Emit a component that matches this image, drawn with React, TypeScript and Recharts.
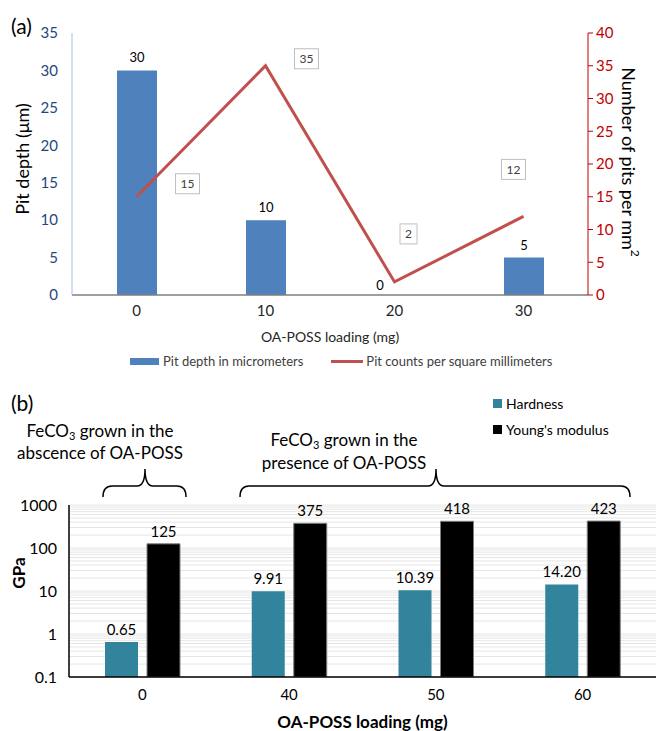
import React from 'react';
import {
  ComposedChart,
  BarChart,
  Bar,
  Line,
  XAxis,
  YAxis,
  CartesianGrid,
  LabelList,
  Legend,
} from 'recharts';

// ---------- Panel (a) data ----------
const LOADING_A = ['0', '10', '20', '30'];
const PIT_DEPTH = [30, 10, 0, 5];
const PIT_COUNT = [15, 35, 2, 12];
const LEFT_TICKS = [0, 5, 10, 15, 20, 25, 30, 35];
const RIGHT_TICKS = [0, 5, 10, 15, 20, 25, 30, 35, 40];

// ---------- Panel (b) data ----------
const LOADING_B = ['0', '40', '50', '60'];
const HARDNESS = [0.65, 9.91, 10.39, 14.2];
const YOUNGS = [125, 375, 418, 423];
const LOG_TICKS = [0.1, 1, 10, 100, 1000];
const LOG_DOMAIN: [number, number] = [0.1, 1000];

// label placement offsets for line data labels (dx, dy from point)
const LINE_LABEL_OFFSETS: [number, number][] = [
  [51, -13],
  [41, -7],
  [14, -48],
  [-10, -47],
];

// minor + major log gridline values
const GRID_VALUES: number[] = [];
[0.1, 1, 10, 100].forEach((d) => {
  for (let m = 1; m <= 9; m++) GRID_VALUES.push(+(d * m).toPrecision(3));
});
GRID_VALUES.push(1000);

const dataA = LOADING_A.map((c, i) => ({ loading: c, depth: PIT_DEPTH[i], count: PIT_COUNT[i] }));
const dataB = LOADING_B.map((c, i) => ({ loading: c, hardness: HARDNESS[i], youngs: YOUNGS[i] }));

const FONT = 'Lato, "Open Sans", sans-serif';

const logGridGenerator = (props: any) => {
  const yAxis = props?.yAxis;
  const scale = yAxis?.scale;
  if (typeof scale === 'function') {
    const pts = GRID_VALUES.map((v) => scale(v)).filter((p: any) => Number.isFinite(p));
    if (pts.length) return pts;
  }
  const off = props?.offset || {};
  const top = off.top ?? 125;
  const h = off.height ?? 172;
  const lo = Math.log10(LOG_DOMAIN[0]);
  const hi = Math.log10(LOG_DOMAIN[1]);
  return GRID_VALUES.map((v) => top + (h * (hi - Math.log10(v))) / (hi - lo));
};

const renderBoxLabel = (props: any) => {
  const { x, y, index, value } = props;
  const off = LINE_LABEL_OFFSETS[index] || [0, -20];
  const cx = x + off[0];
  const cy = y + off[1];
  const w = String(value).length * 7 + 10;
  return (
    <g key={`bl-${index}`}>
      <rect x={cx - w / 2} y={cy - 10} width={w} height={20} fill="#ffffff" stroke="#bfbfbf" strokeWidth={1} />
      <text x={cx} y={cy} textAnchor="middle" dominantBaseline="central" fontSize={12} fill="#404040">
        {value}
      </text>
    </g>
  );
};

const renderBarLabelA = (p: any) => {
  const { x, y, width, value } = p;
  const isZero = Number(value) === 0;
  const cx = Number(x) + Number(width) / 2 + (isZero ? -15 : 0);
  const ty = Number(y) - (isZero ? 5 : 8);
  return (
    <text x={cx} y={ty} textAnchor="middle" fontSize={13} fill="#000">
      {value}
    </text>
  );
};

const LegendA = () => (
  <div style={{ display: 'flex', alignItems: 'center', fontSize: 13, color: '#404040', whiteSpace: 'nowrap' }}>
    <span style={{ display: 'inline-block', width: 29, height: 7, background: '#4F81BD', marginRight: 4 }} />
    <span style={{ marginRight: 28 }}>Pit depth in micrometers</span>
    <span style={{ display: 'inline-block', width: 32, height: 3, background: '#C0504D', marginRight: 3 }} />
    <span>Pit counts per square millimeters</span>
  </div>
);

const LegendB = () => (
  <div style={{ fontSize: 14, color: '#000', whiteSpace: 'nowrap' }}>
    <div style={{ display: 'flex', alignItems: 'center', height: 18, marginBottom: 8 }}>
      <span style={{ display: 'inline-block', width: 9, height: 9, background: '#31849B', marginRight: 4 }} />
      <span>Hardness</span>
    </div>
    <div style={{ display: 'flex', alignItems: 'center', height: 18 }}>
      <span style={{ display: 'inline-block', width: 9, height: 9, background: '#000', marginRight: 4 }} />
      <span>Young's modulus</span>
    </div>
  </div>
);

export default function App() {
  return (
    <div
      style={{
        position: 'absolute',
        left: 0,
        top: 0,
        width: 656,
        height: 731,
        overflow: 'hidden',
        background: '#ffffff',
        fontFamily: FONT,
      }}
    >
      {/* Panel (a) */}
      <div style={{ position: 'absolute', left: 0, top: 0 }}>
        <ComposedChart
          width={656}
          height={380}
          data={dataA}
          margin={{ top: 33, right: 8, bottom: 35, left: 12 }}
        >
          <XAxis
            dataKey="loading"
            tickLine={false}
            axisLine={{ stroke: '#7f7f7f', strokeWidth: 1.5 }}
            tick={{ fill: '#262626', fontSize: 15 }}
            tickMargin={4}
            height={50}
            label={{
              value: 'OA-POSS loading (mg)',
              position: 'insideBottom',
              offset: 3,
              fill: '#262626',
              fontSize: 14,
            }}
          />
          <YAxis
            yAxisId="left"
            domain={[0, 35]}
            ticks={LEFT_TICKS}
            width={60}
            tickLine={false}
            axisLine={{ stroke: '#9dc3e6' }}
            tick={{ fill: '#1F497D', fontSize: 15 }}
            tickMargin={8}
            label={{
              content: (p: any) => {
                const vb = p.viewBox || {};
                const x = (vb.x ?? 12) + 10;
                const y = (vb.y ?? 33) + (vb.height ?? 262) / 2 - 5;
                return (
                  <text
                    x={x}
                    y={y}
                    transform={`rotate(-90, ${x}, ${y})`}
                    textAnchor="middle"
                    dominantBaseline="central"
                    fontSize={18}
                    fill="#000"
                  >
                    Pit depth (μm)
                  </text>
                );
              },
            }}
          />
          <YAxis
            yAxisId="right"
            orientation="right"
            domain={[0, 40]}
            ticks={RIGHT_TICKS}
            width={60}
            tickSize={5}
            axisLine={{ stroke: '#c00000' }}
            tickLine={{ stroke: '#c00000' }}
            tick={{ fill: '#c00000', fontSize: 15 }}
            tickMargin={3}
            label={{
              content: (p: any) => {
                const vb = p.viewBox || {};
                const x = (vb.x ?? 588) + 41;
                const y = (vb.y ?? 33) + (vb.height ?? 262) / 2 - 2;
                return (
                  <text
                    x={x}
                    y={y}
                    transform={`rotate(90, ${x}, ${y})`}
                    textAnchor="middle"
                    dominantBaseline="central"
                    fontSize={18}
                    fill="#000"
                  >
                    Number of pits per mm
                    <tspan fontSize={12} dy={-7}>
                      2
                    </tspan>
                  </text>
                );
              },
            }}
          />
          <Bar
            yAxisId="left"
            dataKey="depth"
            name="Pit depth in micrometers"
            fill="#4F81BD"
            barSize={40}
            minPointSize={0.01}
            isAnimationActive={false}
          >
            <LabelList dataKey="depth" content={renderBarLabelA} />
          </Bar>
          <Line
            yAxisId="right"
            type="linear"
            dataKey="count"
            name="Pit counts per square millimeters"
            stroke="#C0504D"
            strokeWidth={3}
            dot={false}
            activeDot={false}
            isAnimationActive={false}
            label={renderBoxLabel}
          />
          <Legend
            layout="horizontal"
            verticalAlign="middle"
            align="center"
            wrapperStyle={{ top: 353, left: 130, width: 'auto' }}
            content={() => <LegendA />}
          />
        </ComposedChart>
      </div>

      {/* Panel (b) */}
      <div style={{ position: 'absolute', left: 0, top: 380 }}>
        <BarChart
          width={656}
          height={351}
          data={dataB}
          margin={{ top: 125, right: 0, bottom: 0, left: 9 }}
          barGap={9}
          barCategoryGap="25%"
        >
          <CartesianGrid
            vertical={false}
            horizontalCoordinatesGenerator={logGridGenerator}
            stroke="#e6e6e6"
            strokeWidth={1}
          />
          <XAxis
            dataKey="loading"
            tickLine={false}
            axisLine={{ stroke: '#000', strokeWidth: 1.5 }}
            tick={{ fill: '#000', fontSize: 15 }}
            tickMargin={6}
            height={54}
            label={{
              value: 'OA-POSS loading (mg)',
              position: 'insideBottom',
              offset: 3,
              fill: '#000',
              fontSize: 17,
              fontWeight: 'bold',
            }}
          />
          <YAxis
            scale="log"
            domain={LOG_DOMAIN}
            ticks={LOG_TICKS}
            allowDataOverflow
            width={60}
            tickLine={false}
            axisLine={{ stroke: '#000', strokeWidth: 1.5 }}
            tick={{ fill: '#000', fontSize: 16 }}
            tickMargin={6}
            label={{
              content: (p: any) => {
                const vb = p.viewBox || {};
                const x = (vb.x ?? 9) + 9;
                const y = (vb.y ?? 125) + (vb.height ?? 172) / 2 - 18;
                return (
                  <text
                    x={x}
                    y={y}
                    transform={`rotate(-90, ${x}, ${y})`}
                    textAnchor="middle"
                    dominantBaseline="central"
                    fontSize={17}
                    fontWeight="bold"
                    fill="#000"
                  >
                    GPa
                  </text>
                );
              },
            }}
          />
          <Bar dataKey="hardness" name="Hardness" fill="#31849B" barSize={33} isAnimationActive={false}>
            <LabelList
              dataKey="hardness"
              position="top"
              offset={7}
              fill="#000"
              fontSize={15}
              formatter={(v: any) => Number(v).toFixed(2)}
            />
          </Bar>
          <Bar
            dataKey="youngs"
            name="Young's modulus"
            fill="#000000"
            stroke="#7f7f7f"
            strokeWidth={1}
            barSize={33}
            isAnimationActive={false}
          >
            <LabelList dataKey="youngs" position="top" offset={7} fill="#000" fontSize={15} />
          </Bar>
          <Legend
            layout="horizontal"
            verticalAlign="middle"
            align="center"
            wrapperStyle={{ top: 14, left: 493, width: 'auto' }}
            content={() => <LegendB />}
          />
        </BarChart>
      </div>

      {/* Panel labels and annotation braces */}
      <svg
        width={656}
        height={731}
        style={{ position: 'absolute', left: 0, top: 0, pointerEvents: 'none' }}
      >
        <text x={11} y={25} dominantBaseline="central" fontSize={21} fill="#000">
          (a)
        </text>
        <text x={11} y={402} dominantBaseline="central" fontSize={21} fill="#000">
          (b)
        </text>

        <text x={100} y={430} textAnchor="middle" dominantBaseline="central" fontSize={17} fill="#000">
          FeCO
          <tspan fontSize={11} dy={5}>
            3
          </tspan>
          <tspan dy={-5}> grown in the</tspan>
        </text>
        <text x={100} y={452} textAnchor="middle" dominantBaseline="central" fontSize={17} fill="#000">
          abscence of OA-POSS
        </text>

        <text x={344} y={439} textAnchor="middle" dominantBaseline="central" fontSize={17} fill="#000">
          FeCO
          <tspan fontSize={11} dy={5}>
            3
          </tspan>
          <tspan dy={-5}> grown in the</tspan>
        </text>
        <text x={344} y={462} textAnchor="middle" dominantBaseline="central" fontSize={17} fill="#000">
          presence of OA-POSS
        </text>

        <path
          d="M103,497 Q103,486 112,486 L137,486 Q145,486 145,469 Q145,486 153,486 L177,486 Q186,486 186,497"
          fill="none"
          stroke="#000"
          strokeWidth={1.5}
        />
        <path
          d="M240,497 Q240,486 249,486 L428,486 Q436,486 436,469 Q436,486 444,486 L621,486 Q630,486 630,497"
          fill="none"
          stroke="#000"
          strokeWidth={1.5}
        />
      </svg>
    </div>
  );
}
